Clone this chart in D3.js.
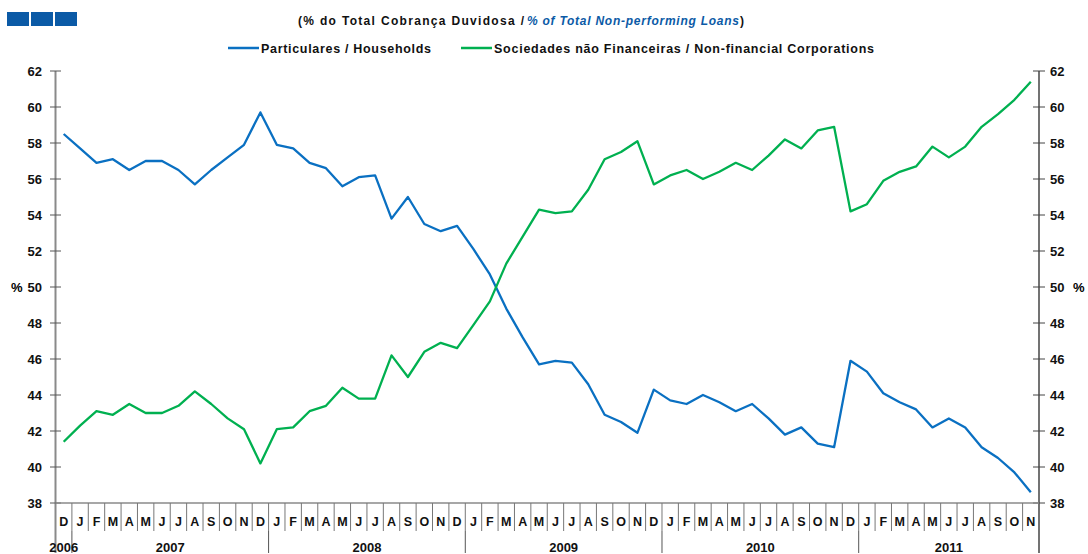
<!DOCTYPE html>
<html>
<head>
<meta charset="utf-8">
<script src="https://cdn.jsdelivr.net/npm/d3@7"></script>
<style>
  body { margin: 0; background: #fff; }
  svg { display: block; font-family: 'Liberation Sans', Arial, sans-serif; }
</style>
</head>
<body>
<svg id="chart" width="1088" height="554"></svg>
<script>
const monthLabels = ('D J F M A M J J A S O N ' +
  'D J F M A M J J A S O N ' +
  'D J F M A M J J A S O N ' +
  'D J F M A M J J A S O N ' +
  'D J F M A M J J A S O N').split(' ')
const years = ['2006', '2007', '2008', '2009', '2010', '2011']
// number of months of each year shown on the axis
const yearMonths = [1, 12, 12, 12, 12, 11]

const households = [
  58.5, 57.7, 56.9, 57.1, 56.5, 57.0, 57.0, 56.5, 55.7, 56.5, 57.2, 57.9,
  59.7, 57.9, 57.7, 56.9, 56.6, 55.6, 56.1, 56.2, 53.8, 55.0, 53.5, 53.1,
  53.4, 52.1, 50.7, 48.8, 47.2, 45.7, 45.9, 45.8, 44.6, 42.9, 42.5, 41.9,
  44.3, 43.7, 43.5, 44.0, 43.6, 43.1, 43.5, 42.7, 41.8, 42.2, 41.3, 41.1,
  45.9, 45.3, 44.1, 43.6, 43.2, 42.2, 42.7, 42.2, 41.1, 40.5, 39.7, 38.6
]
const corporations = [
  41.4, 42.3, 43.1, 42.9, 43.5, 43.0, 43.0, 43.4, 44.2, 43.5, 42.7, 42.1,
  40.2, 42.1, 42.2, 43.1, 43.4, 44.4, 43.8, 43.8, 46.2, 45.0, 46.4, 46.9,
  46.6, 47.9, 49.2, 51.3, 52.8, 54.3, 54.1, 54.2, 55.4, 57.1, 57.5, 58.1,
  55.7, 56.2, 56.5, 56.0, 56.4, 56.9, 56.5, 57.3, 58.2, 57.7, 58.7, 58.9,
  54.2, 54.6, 55.9, 56.4, 56.7, 57.8, 57.2, 57.8, 58.9, 59.6, 60.4, 61.4
]
const yTicks = [38, 40, 42, 44, 46, 48, 50, 52, 54, 56, 58, 60, 62]

const seriesNames = ['Particulares / Households', 'Sociedades não Financeiras / Non-financial Corporations']
const colors = ['#0a70c2', '#00b050']

const svg = d3.select('#chart')
const plotLeft = 55.5
const plotRight = 1039
const plotTop = 71
const plotBottom = 503

const x = d3.scaleBand().domain(d3.range(monthLabels.length)).range([plotLeft, plotRight])
const y = d3.scaleLinear().domain([38, 62]).range([plotBottom, plotTop])

// header squares
svg.append('g').selectAll('rect').data([0, 1, 2]).enter().append('rect')
  .attr('x', d => 7 + d * 24)
  .attr('y', 12)
  .attr('width', 22)
  .attr('height', 14)
  .attr('fill', '#0b5aa6')

// subtitle, stretched to the width it has in the original
const subParts = [
  {text: '(% do Total Cobrança Duvidosa  / ', x: 298, w: 226, color: '#111', italic: false},
  {text: '% of Total Non-performing Loans', x: 527, w: 212, color: '#0b5aa6', italic: true},
  {text: ')', x: 740, w: 5, color: '#111', italic: false}
]
svg.append('g').selectAll('text').data(subParts).enter().append('text')
  .attr('x', d => d.x)
  .attr('y', 25)
  .attr('textLength', d => d.w)
  .attr('lengthAdjust', 'spacing')
  .style('font-size', '12px')
  .style('font-weight', 'bold')
  .style('font-style', d => d.italic ? 'italic' : 'normal')
  .attr('fill', d => d.color)
  .text(d => d.text)

// legend
const legendX = [228, 461]
const legendW = [170, 380]
const legend = svg.append('g').selectAll('g').data(seriesNames).enter().append('g')
  .attr('transform', (d, i) => `translate(${legendX[i]}, 48)`)
legend.append('line')
  .attr('x1', 0).attr('x2', 31)
  .attr('stroke', (d, i) => colors[i])
  .attr('stroke-width', 2.5)
legend.append('text')
  .attr('x', 33)
  .attr('y', 4.5)
  .attr('textLength', (d, i) => legendW[i])
  .attr('lengthAdjust', 'spacing')
  .style('font-size', '12.5px')
  .style('font-weight', 'bold')
  .attr('fill', '#111')
  .text(d => d)

// y axes
const leftAxis = svg.append('g')
leftAxis.append('line')
  .attr('x1', plotLeft).attr('x2', plotLeft)
  .attr('y1', plotTop).attr('y2', 553)
  .attr('stroke', '#8a8a8a').attr('stroke-width', 2)
leftAxis.selectAll('.tick').data(yTicks).enter().append('line')
  .attr('x1', plotLeft - 5.5).attr('x2', plotLeft + 5.5)
  .attr('y1', d => y(d)).attr('y2', d => y(d))
  .attr('stroke', '#555')
leftAxis.selectAll('text').data(yTicks).enter().append('text')
  .attr('x', 42)
  .attr('y', d => y(d) + 4.5)
  .attr('text-anchor', 'end')
  .style('font-size', '13px')
  .style('font-weight', 'bold')
  .attr('fill', '#111')
  .text(d => d)
leftAxis.append('text')
  .attr('x', 11).attr('y', y(50) + 4.5)
  .style('font-size', '13px').style('font-weight', 'bold')
  .text('%')

const rightAxis = svg.append('g')
rightAxis.append('line')
  .attr('x1', plotRight).attr('x2', plotRight)
  .attr('y1', plotTop).attr('y2', 553)
  .attr('stroke', '#444').attr('stroke-width', 1.5)
rightAxis.selectAll('.tick').data(yTicks).enter().append('line')
  .attr('x1', plotRight - 6).attr('x2', plotRight + 6)
  .attr('y1', d => y(d)).attr('y2', d => y(d))
  .attr('stroke', '#444')
rightAxis.selectAll('text').data(yTicks).enter().append('text')
  .attr('x', 1050)
  .attr('y', d => y(d) + 4.5)
  .style('font-size', '13px')
  .style('font-weight', 'bold')
  .attr('fill', '#111')
  .text(d => d)
rightAxis.append('text')
  .attr('x', 1073).attr('y', y(50) + 4.5)
  .style('font-size', '13px').style('font-weight', 'bold')
  .text('%')

// x axis: months
svg.append('line')
  .attr('x1', plotLeft).attr('x2', plotRight)
  .attr('y1', plotBottom).attr('y2', plotBottom)
  .attr('stroke', '#8a8a8a').attr('stroke-width', 1.5)

svg.append('g').selectAll('line').data(d3.range(1, monthLabels.length)).enter().append('line')
  .attr('x1', d => x(d)).attr('x2', d => x(d))
  .attr('y1', plotBottom).attr('y2', 531)
  .attr('stroke', '#777')

svg.append('g').selectAll('text').data(monthLabels).enter().append('text')
  .attr('x', (d, i) => x(i) + x.bandwidth() / 2)
  .attr('y', 526)
  .attr('text-anchor', 'middle')
  .style('font-size', '12.5px')
  .style('font-weight', 'bold')
  .attr('fill', '#111')
  .text(d => d)

// x axis: years
const yearStart = d3.cumsum([0].concat(yearMonths))
svg.append('g').selectAll('line').data(Array.from(yearStart).slice(1, -1)).enter().append('line')
  .attr('x1', d => x(d)).attr('x2', d => x(d))
  .attr('y1', 531).attr('y2', 553)
  .attr('stroke', '#555')

svg.append('g').selectAll('text').data(years).enter().append('text')
  .attr('x', (d, i) => (x(yearStart[i]) + x(yearStart[i + 1] - 1) + x.bandwidth()) / 2)
  .attr('y', 552)
  .attr('text-anchor', 'middle')
  .style('font-size', '13px')
  .style('font-weight', 'bold')
  .attr('fill', '#111')
  .text(d => d)

// lines
const line = d3.line()
  .x((d, i) => x(i) + x.bandwidth() / 2)
  .y(d => y(d))

svg.append('g').selectAll('path').data([households, corporations]).enter().append('path')
  .attr('d', line)
  .attr('fill', 'none')
  .attr('stroke', (d, i) => colors[i])
  .attr('stroke-width', 2.3)
  .attr('stroke-linejoin', 'round')
</script>
</body>
</html>
